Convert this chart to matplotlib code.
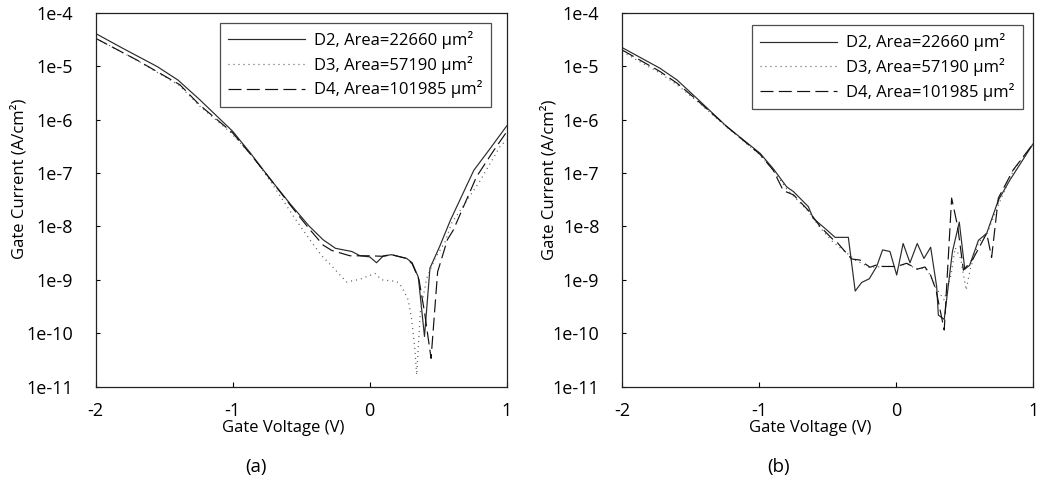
import numpy as np
import matplotlib
matplotlib.use("Agg")
import matplotlib.pyplot as plt
from matplotlib.ticker import FixedLocator, NullLocator

plt.rcParams['font.family'] = ['Open Sans', 'DejaVu Sans']
plt.rcParams['font.size'] = 12

# ---- Panel (a): gate current density, log10(A/cm^2) ----
v_d2_a = [-2.0, -1.8, -1.55, -1.4, -1.24, -1.0, -0.87, -0.73, -0.58, -0.44, -0.34,
          -0.25, -0.13, -0.07, 0.0, 0.05, 0.10, 0.16, 0.27, 0.31, 0.355, 0.40, 0.44,
          0.51, 0.59, 0.76, 0.88, 1.0]
lj_d2_a = [-4.39, -4.67, -5.01, -5.26, -5.63, -6.22, -6.63, -7.10, -7.58, -8.0, -8.25,
           -8.41, -8.47, -8.55, -8.57, -8.68, -8.55, -8.53, -8.60, -8.68, -8.95, -10.06, -8.78,
           -8.38, -7.88, -6.95, -6.54, -6.12]

v_d3_a = [-2.0, -1.7, -1.39, -1.24, -1.02, -0.85, -0.70, -0.558, -0.492, -0.423, -0.35,
          -0.27, -0.17, -0.071, 0.039, 0.088, 0.197, 0.234, 0.282, 0.307, 0.33, 0.343,
          0.37, 0.416, 0.477, 0.55, 0.598, 0.805, 0.95, 1.0]
lj_d3_a = [-4.48, -4.89, -5.36, -5.75, -6.23, -6.70, -7.25, -7.805, -8.05, -8.30, -8.55,
           -8.76, -9.04, -8.99, -8.88, -9.0, -9.03, -9.13, -9.38, -9.75, -10.3, -10.78,
           -9.6, -8.97, -8.6, -8.29, -7.94, -7.15, -6.51, -6.38]

v_d4_a = [-2.0, -1.7, -1.385, -1.24, -1.0, -0.87, -0.73, -0.58, -0.44, -0.34, -0.277,
          -0.144, -0.07, 0.0, 0.10, 0.16, 0.27, 0.31, 0.36, 0.40, 0.448, 0.496, 0.567,
          0.61, 0.78, 0.90, 1.0]
lj_d4_a = [-4.48, -4.885, -5.35, -5.73, -6.25, -6.65, -7.10, -7.60, -8.05, -8.35, -8.45,
           -8.55, -8.55, -8.55, -8.56, -8.53, -8.60, -8.70, -9.0, -9.6, -10.47, -8.85, -8.25,
           -8.07, -7.07, -6.60, -6.23]

# ---- Panel (b) ----
v_d2_b = [-2.0, -1.725, -1.60, -1.457, -1.238, -0.995, -0.898, -0.80, -0.75, -0.642,
          -0.606, -0.51, -0.447, -0.35, -0.30, -0.253, -0.197, -0.143, -0.10, -0.046,
          0.003, 0.05, 0.10, 0.153, 0.202, 0.251, 0.295, 0.307, 0.35, 0.41, 0.46, 0.50,
          0.535, 0.60, 0.66, 0.745, 0.83, 1.0]
lj_d2_b = [-4.655, -5.04, -5.26, -5.60, -6.13, -6.63, -6.92, -7.26, -7.35, -7.63,
           -7.85, -8.06, -8.205, -8.205, -9.21, -9.05, -8.98, -8.75, -8.44, -8.47,
           -8.91, -8.32, -8.68, -8.32, -8.60, -8.39, -9.13, -9.66, -9.74, -8.47, -7.92, -8.80,
           -8.73, -8.26, -8.13, -7.51, -7.13, -6.45]

v_d3_b = [-2.0, -1.725, -1.60, -1.457, -1.238, -0.995, -0.898, -0.80, -0.642, -0.557,
          -0.46, -0.374, -0.30, -0.192, -0.10, 0.003, 0.076, 0.153, 0.21, 0.25, 0.29,
          0.35, 0.40, 0.43, 0.47, 0.51, 0.54, 0.60, 0.66, 0.745, 0.854, 1.0]
lj_d3_b = [-4.73, -5.13, -5.35, -5.65, -6.14, -6.66, -6.95, -7.30, -7.72, -8.02,
           -8.30, -8.47, -8.63, -8.77, -8.75, -8.75, -8.70, -8.80, -8.78, -8.92, -9.15,
           -9.38, -8.9, -8.4, -8.6, -9.19, -8.80, -8.30, -8.15, -7.60, -6.96, -6.45]

v_d4_b = [-2.0, -1.725, -1.60, -1.457, -1.238, -0.995, -0.898, -0.825, -0.75, -0.642,
          -0.557, -0.46, -0.435, -0.374, -0.326, -0.265, -0.192, -0.143, -0.10, 0.003,
          0.076, 0.153, 0.21, 0.25, 0.29, 0.35, 0.404, 0.448, 0.49, 0.562, 0.66, 0.696,
          0.745, 0.854, 1.0]
lj_d4_b = [-4.70, -5.10, -5.32, -5.63, -6.13, -6.65, -6.95, -7.33, -7.41, -7.70,
           -8.0, -8.25, -8.29, -8.47, -8.61, -8.63, -8.765, -8.72, -8.75, -8.75,
           -8.69, -8.80, -8.76, -8.91, -9.19, -9.94, -7.47, -8.0, -8.82, -8.60, -8.13, -8.58,
           -7.47, -6.94, -6.45]

labels = ["D2, Area=22660 \u03bcm\u00b2", "D3, Area=57190 \u03bcm\u00b2",
          "D4, Area=101985 \u03bcm\u00b2"]
decades = [-11, -10, -9, -8, -7, -6, -5, -4]
xticks = [-2, -1, 0, 1]

styles = [
    dict(color="#2a2a2a", lw=0.85, linestyle="-"),
    dict(color="#555555", lw=0.9, linestyle=(0, (0.8, 3.2))),
    dict(color="#111111", lw=0.85, linestyle=(0, (11, 4.5))),
]

fig = plt.figure(figsize=(10.37, 4.96), dpi=100)
ax_a = fig.add_axes([0.0923, 0.2204, 0.3963, 0.754])
ax_b = fig.add_axes([0.6001, 0.2204, 0.3963, 0.754])

panels = [
    (ax_a, [(v_d2_a, lj_d2_a), (v_d3_a, lj_d3_a), (v_d4_a, lj_d4_a)], (0.962, 0.973), (-0.165, 0.557)),
    (ax_b, [(v_d2_b, lj_d2_b), (v_d3_b, lj_d3_b), (v_d4_b, lj_d4_b)], (0.974, 0.967), (-0.158, 0.552)),
]

fs = 12
for ax, series, leg_anchor, ylab_xy in panels:
    for (v, lj), st, lab in zip(series, styles, labels):
        ax.plot(v, 10.0 ** np.asarray(lj), label=lab, **st)
    ax.set_yscale("log")
    ax.set_xlim(-2, 1)
    ax.set_ylim(1e-11, 1e-4)
    ax.yaxis.set_major_locator(FixedLocator([10.0 ** d for d in decades]))
    ax.yaxis.set_minor_locator(NullLocator())
    ax.set_yticklabels([f"1e{d}" for d in decades])
    ax.set_xticks(xticks)
    ax.set_xticklabels([str(t) for t in xticks])
    ax.tick_params(axis="y", direction="in", length=3, width=0.8, pad=16.5, labelsize=13)
    ax.tick_params(axis="x", direction="in", length=3.5, width=0.8, pad=11, labelsize=13)
    for sp in ax.spines.values():
        sp.set_linewidth(0.9)
        sp.set_color("#222222")
    ax.set_xlabel("Gate Voltage (V)", fontsize=fs)
    ax.set_ylabel("Gate Current (A/cm\u00b2)", fontsize=fs)
    ax.xaxis.set_label_coords(0.457, -0.09)
    ax.yaxis.set_label_coords(*ylab_xy)
    leg = ax.legend(loc="upper right", bbox_to_anchor=leg_anchor, borderaxespad=0,
                    frameon=True, fancybox=False, edgecolor="#222222", fontsize=fs,
                    handlelength=4.6, handletextpad=0.55, labelspacing=0.4,
                    borderpad=0.5)
    leg.get_frame().set_linewidth(0.9)

fig.text(0.247, 0.058, "(a)", ha="center", va="center", fontsize=13.5)
fig.text(0.751, 0.058, "(b)", ha="center", va="center", fontsize=13.5)

fig.savefig("out.png", dpi=100)
